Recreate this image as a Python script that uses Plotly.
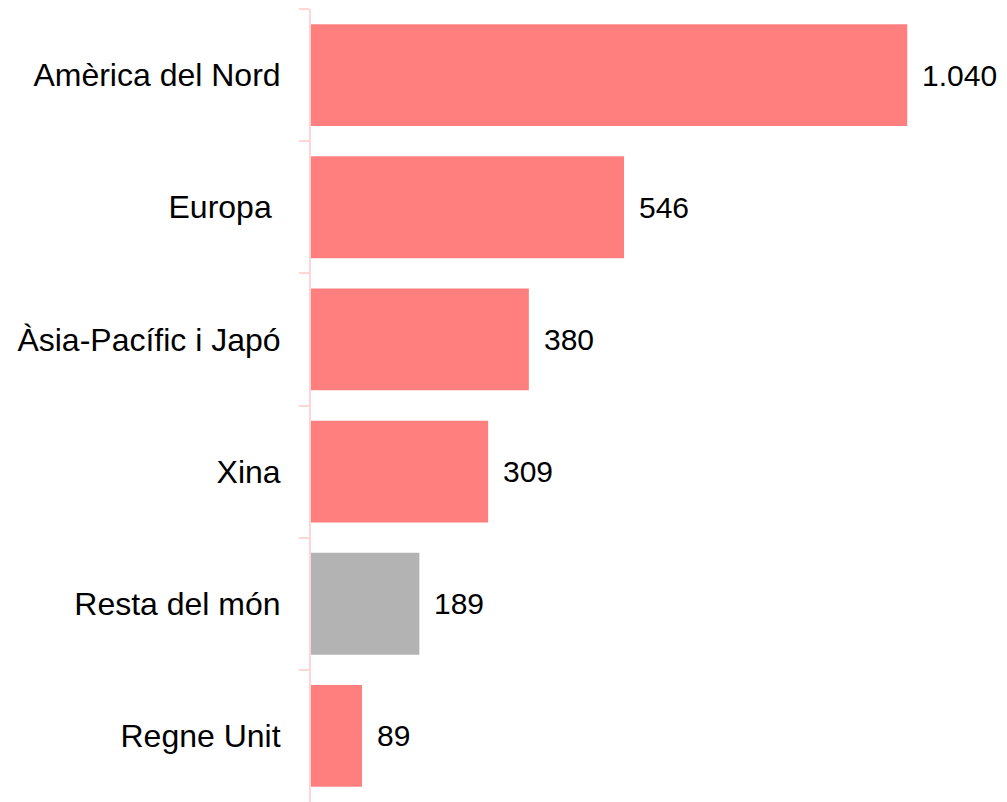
import plotly.graph_objects as go

categories = ["Amèrica del Nord", "Europa ", "Àsia-Pacífic i Japó", "Xina", "Resta del món", "Regne Unit"]
values = [1040, 546, 380, 309, 189, 89]
colors = ["#ff7f7f", "#ff7f7f", "#ff7f7f", "#ff7f7f", "#b3b3b3", "#ff7f7f"]
labels = ["1.040", "546", "380", "309", "189", "89"]

FONT = "Liberation Sans, Arial, Helvetica, sans-serif"

fig = go.Figure(go.Bar(
    x=values, y=categories, orientation="h",
    marker=dict(color=colors, line=dict(width=0)),
    hoverinfo="skip",
))

for c, v, t in zip(categories, values, labels):
    fig.add_annotation(x=v, y=c, text=t, showarrow=False, xanchor="left", yanchor="middle",
                       xshift=13, font=dict(family=FONT, size=30, color="#000000"))

fig.update_layout(
    width=999, height=794,
    margin=dict(l=303, r=0, t=1, b=0),
    plot_bgcolor="white", paper_bgcolor="white",
    bargap=0.23,
    showlegend=False,
    separators=",.",
)
fig.update_xaxes(range=[0, 1214], visible=False, showgrid=False, zeroline=False)
fig.update_yaxes(
    categoryorder="array", categoryarray=categories, autorange="reversed",
    showline=True, linecolor="#ffd6d6", linewidth=2,
    ticks="outside", tickson="boundaries", ticklen=10, tickcolor="#ffd6d6", tickwidth=2,
    ticklabelstandoff=22,
    showgrid=False, zeroline=False,
    tickfont=dict(family=FONT, size=32, color="#000000"),
)

fig.write_html("out.html")
